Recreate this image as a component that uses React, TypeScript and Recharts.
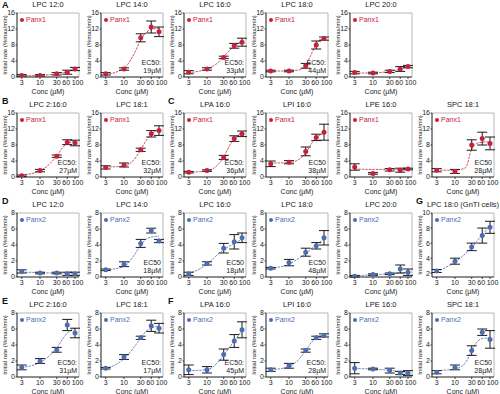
import { ComposedChart, Scatter, Line, XAxis, YAxis, ErrorBar, ReferenceArea } from 'recharts';

// concentrations (µM) for measured points and for the fitted dose-response curve
const conc = [3, 10, 30, 60, 100];
const fitConc = [3, 10, 20, 30, 45, 60, 100];
const concTicks = [3, 10, 30, 60, 100];
const panx1Ticks = [0, 4, 8, 12, 16];
const panx2Ticks = [0, 2, 4, 6, 8];
const gntiTicks = [2, 4, 6, 8, 10];

// A - Panx1
const aLpc120Mean = [0.4, 0.4, 0.8, 1.2, 2.0];
const aLpc120Err = [0.2, 0.2, 0.3, 0.5, 0.4];
const aLpc120Fit = [0.3, 0.4, 0.6, 0.8, 1.1, 1.3, 2.0];
const aLpc140Mean = [0.8, 2.0, 9.8, 12.5, 11.3];
const aLpc140Err = [0.3, 0.3, 1.0, 1.5, 1.2];
const aLpc140Fit = [0.6, 2.2, 6.0, 9.3, 11.3, 11.9, 12.2];
const aLpc160Mean = [1.2, 2.0, 4.9, 7.8, 8.7];
const aLpc160Err = [0.4, 0.3, 0.3, 0.6, 1.0];
const aLpc160Fit = [1.1, 2.0, 3.5, 5.0, 6.7, 7.7, 8.9];
const aLpc180Mean = [1.5, 1.5, 2.8, 8.0, 9.6];
const aLpc180Err = [0.2, 0.2, 0.6, 1.0, 0.4];
const aLpc180Fit = [1.5, 1.5, 1.8, 3.0, 6.0, 8.2, 9.8];
const aLpc200Mean = [1.1, 1.0, 1.4, 2.0, 2.6];
const aLpc200Err = [0.3, 0.2, 0.3, 0.6, 0.3];
const aLpc200Fit = [1.0, 1.0, 1.2, 1.4, 1.7, 2.0, 2.6];

// B / C - Panx1
const bLpc2160Mean = [0.3, 1.6, 5.2, 8.7, 8.5];
const bLpc2160Err = [0.2, 0.3, 0.3, 0.6, 0.7];
const bLpc2160Fit = [0.5, 1.5, 3.5, 5.2, 7.4, 8.4, 8.9];
const bLpc181Mean = [2.4, 3.0, 6.8, 10.8, 11.6];
const bLpc181Err = [0.4, 0.5, 0.4, 0.8, 1.2];
const bLpc181Fit = [2.5, 2.7, 4.5, 6.8, 9.4, 10.7, 11.8];
const cLpa160Mean = [1.2, 1.6, 4.9, 9.6, 10.8];
const cLpa160Err = [0.2, 0.2, 0.5, 0.7, 0.7];
const cLpa160Fit = [1.2, 1.5, 3.0, 5.0, 8.0, 9.5, 11.0];
const cLpi160Mean = [3.3, 3.7, 6.4, 9.9, 11.2];
const cLpi160Err = [0.7, 0.4, 1.1, 0.8, 2.0];
const cLpi160Fit = [3.5, 3.6, 4.5, 6.0, 8.5, 9.8, 11.0];
const cLpe160Mean = [2.5, 0.9, 1.8, 1.7, 2.0];
const cLpe160Err = [0.8, 0.2, 0.3, 0.5, 0.2];
const cLpe160Fit = [2.0, 1.9, 1.9, 1.9, 1.9, 1.9, 1.9];
const cSpc181Mean = [1.7, 1.4, 8.0, 9.6, 8.4];
const cSpc181Err = [0.4, 0.5, 1.3, 1.6, 1.6];
const cSpc181Fit = [1.7, 1.7, 2.3, 7.0, 8.5, 8.7, 8.8];

// D / G - Panx2
const dLpc120Mean = [0.7, 0.5, 0.5, 0.4, 0.4];
const dLpc120Err = [0.2, 0.1, 0.1, 0.2, 0.2];
const dLpc120Fit = [0.6, 0.55, 0.5, 0.5, 0.5, 0.5, 0.5];
const dLpc140Mean = [0.9, 1.6, 4.2, 5.8, 4.5];
const dLpc140Err = [0.1, 0.3, 0.5, 0.3, 0.2];
const dLpc140Fit = [0.9, 1.3, 2.8, 4.0, 4.8, 5.0, 5.1];
const dLpc160Mean = [0.4, 1.7, 3.6, 4.4, 4.9];
const dLpc160Err = [0.2, 0.2, 0.6, 0.9, 0.6];
const dLpc160Fit = [0.4, 1.6, 2.8, 3.4, 3.9, 4.2, 4.7];
const dLpc180Mean = [1.1, 1.8, 3.1, 3.9, 4.9];
const dLpc180Err = [0.1, 0.4, 0.5, 0.4, 0.9];
const dLpc180Fit = [1.1, 1.6, 2.4, 2.9, 3.6, 4.0, 4.8];
const dLpc200Mean = [0.1, 0.3, 0.4, 1.0, 0.6];
const dLpc200Err = [0.1, 0.1, 0.1, 0.5, 0.4];
const dLpc200Fit = [0.1, 0.3, 0.35, 0.4, 0.45, 0.5, 0.6];
const gLpc180Mean = [2.3, 3.6, 5.5, 7.0, 8.1];
const gLpc180Err = [0.2, 0.4, 0.5, 1.0, 0.8];
const gLpc180Fit = [2.2, 3.5, 4.6, 5.4, 6.4, 7.1, 8.3];

// E / F - Panx2
const eLpc2160Mean = [1.2, 2.0, 3.4, 6.5, 5.5];
const eLpc2160Err = [0.3, 0.3, 0.3, 0.7, 0.6];
const eLpc2160Fit = [1.2, 1.8, 2.8, 3.6, 4.8, 5.5, 6.1];
const eLpc181Mean = [1.1, 2.5, 4.9, 6.4, 6.1];
const eLpc181Err = [0.1, 0.3, 0.2, 0.7, 0.6];
const eLpc181Fit = [1.0, 2.3, 3.8, 4.9, 5.8, 6.1, 6.4];
const fLpa160Mean = [0.9, 0.9, 2.8, 4.5, 5.9];
const fLpa160Err = [0.6, 0.4, 0.7, 0.8, 1.0];
const fLpa160Fit = [0.8, 0.9, 1.8, 2.7, 3.8, 4.5, 5.8];
const fLpi160Mean = [0.9, 1.4, 3.3, 4.9, 5.2];
const fLpi160Err = [0.2, 0.3, 0.2, 0.2, 0.2];
const fLpi160Fit = [0.9, 1.3, 2.3, 3.3, 4.4, 4.9, 5.2];
const fLpe160Mean = [1.1, 1.0, 0.8, 0.5, 0.5];
const fLpe160Err = [0.7, 0.1, 0.3, 0.2, 0.3];
const fLpe160Fit = [1.05, 1.0, 0.9, 0.85, 0.75, 0.6, 0.5];
const fSpc181Mean = [0.6, 1.2, 3.3, 5.6, 4.7];
const fSpc181Err = [0.2, 0.3, 0.6, 0.4, 1.1];
const fSpc181Fit = [0.8, 1.0, 1.8, 3.3, 4.5, 4.8, 4.9];

const RED = '#c8203c';
const BLUE = '#4b6db4';
const INK = '#1a1a1a';
const FONT = 'Liberation Sans, Arial, sans-serif';

const COL_X = [17, 101, 184, 266, 350, 432];
const ROW_Y = [13, 113, 213, 313];
const PW = 62;
const PH = 64;
const TOP_PAD = 6;
const X_DOMAIN = [2.2, 130];

type PanelDef = {
  title: string;
  ch: 'Panx1' | 'Panx2';
  mean: number[];
  err: number[];
  fit: number[];
  ec50?: string[];
  col: number;
  row: number;
  domain: number[];
  ticks: number[];
};

const P1 = [0, 16];
const P2 = [0, 8];

const panels: PanelDef[] = [
  { title: 'LPC 12:0', ch: 'Panx1', mean: aLpc120Mean, err: aLpc120Err, fit: aLpc120Fit, col: 0, row: 0, domain: P1, ticks: panx1Ticks },
  { title: 'LPC 14:0', ch: 'Panx1', mean: aLpc140Mean, err: aLpc140Err, fit: aLpc140Fit, ec50: ['EC50:', '19µM'], col: 1, row: 0, domain: P1, ticks: panx1Ticks },
  { title: 'LPC 16:0', ch: 'Panx1', mean: aLpc160Mean, err: aLpc160Err, fit: aLpc160Fit, ec50: ['EC50:', '33µM'], col: 2, row: 0, domain: P1, ticks: panx1Ticks },
  { title: 'LPC 18:0', ch: 'Panx1', mean: aLpc180Mean, err: aLpc180Err, fit: aLpc180Fit, ec50: ['EC50:', '44µM'], col: 3, row: 0, domain: P1, ticks: panx1Ticks },
  { title: 'LPC 20:0', ch: 'Panx1', mean: aLpc200Mean, err: aLpc200Err, fit: aLpc200Fit, col: 4, row: 0, domain: P1, ticks: panx1Ticks },

  { title: 'LPC 2:16:0', ch: 'Panx1', mean: bLpc2160Mean, err: bLpc2160Err, fit: bLpc2160Fit, ec50: ['EC50:', '27µM'], col: 0, row: 1, domain: P1, ticks: panx1Ticks },
  { title: 'LPC 18:1', ch: 'Panx1', mean: bLpc181Mean, err: bLpc181Err, fit: bLpc181Fit, ec50: ['EC50:', '32µM'], col: 1, row: 1, domain: P1, ticks: panx1Ticks },
  { title: 'LPA 16:0', ch: 'Panx1', mean: cLpa160Mean, err: cLpa160Err, fit: cLpa160Fit, ec50: ['EC50:', '36µM'], col: 2, row: 1, domain: P1, ticks: panx1Ticks },
  { title: 'LPI 16:0', ch: 'Panx1', mean: cLpi160Mean, err: cLpi160Err, fit: cLpi160Fit, ec50: ['EC50', '38µM'], col: 3, row: 1, domain: P1, ticks: panx1Ticks },
  { title: 'LPE 16:0', ch: 'Panx1', mean: cLpe160Mean, err: cLpe160Err, fit: cLpe160Fit, col: 4, row: 1, domain: P1, ticks: panx1Ticks },
  { title: 'SPC 18:1', ch: 'Panx1', mean: cSpc181Mean, err: cSpc181Err, fit: cSpc181Fit, ec50: ['EC50', '28µM'], col: 5, row: 1, domain: P1, ticks: panx1Ticks },

  { title: 'LPC 12:0', ch: 'Panx2', mean: dLpc120Mean, err: dLpc120Err, fit: dLpc120Fit, col: 0, row: 2, domain: P2, ticks: panx2Ticks },
  { title: 'LPC 14:0', ch: 'Panx2', mean: dLpc140Mean, err: dLpc140Err, fit: dLpc140Fit, ec50: ['EC50', '18µM'], col: 1, row: 2, domain: P2, ticks: panx2Ticks },
  { title: 'LPC 16:0', ch: 'Panx2', mean: dLpc160Mean, err: dLpc160Err, fit: dLpc160Fit, ec50: ['EC50', '18µM'], col: 2, row: 2, domain: P2, ticks: panx2Ticks },
  { title: 'LPC 18:0', ch: 'Panx2', mean: dLpc180Mean, err: dLpc180Err, fit: dLpc180Fit, ec50: ['EC50', '48µM'], col: 3, row: 2, domain: P2, ticks: panx2Ticks },
  { title: 'LPC 20:0', ch: 'Panx2', mean: dLpc200Mean, err: dLpc200Err, fit: dLpc200Fit, col: 4, row: 2, domain: P2, ticks: panx2Ticks },
  { title: 'LPC 18:0 (GnTI cells)', ch: 'Panx2', mean: gLpc180Mean, err: gLpc180Err, fit: gLpc180Fit, col: 5, row: 2, domain: [1.5, 10], ticks: gntiTicks },

  { title: 'LPC 2:16:0', ch: 'Panx2', mean: eLpc2160Mean, err: eLpc2160Err, fit: eLpc2160Fit, ec50: ['EC50:', '31µM'], col: 0, row: 3, domain: P2, ticks: panx2Ticks },
  { title: 'LPC 18:1', ch: 'Panx2', mean: eLpc181Mean, err: eLpc181Err, fit: eLpc181Fit, ec50: ['EC50:', '17µM'], col: 1, row: 3, domain: P2, ticks: panx2Ticks },
  { title: 'LPA 16:0', ch: 'Panx2', mean: fLpa160Mean, err: fLpa160Err, fit: fLpa160Fit, ec50: ['EC50:', '45µM'], col: 2, row: 3, domain: P2, ticks: panx2Ticks },
  { title: 'LPI 16:0', ch: 'Panx2', mean: fLpi160Mean, err: fLpi160Err, fit: fLpi160Fit, ec50: ['EC50:', '28µM'], col: 3, row: 3, domain: P2, ticks: panx2Ticks },
  { title: 'LPE 16:0', ch: 'Panx2', mean: fLpe160Mean, err: fLpe160Err, fit: fLpe160Fit, col: 4, row: 3, domain: P2, ticks: panx2Ticks },
  { title: 'SPC 18:1', ch: 'Panx2', mean: fSpc181Mean, err: fSpc181Err, fit: fSpc181Fit, ec50: ['EC50', '28µM'], col: 5, row: 3, domain: P2, ticks: panx2Ticks },
];

const letters = [
  { t: 'A', x: 2, y: 0 },
  { t: 'B', x: 2, y: 96 },
  { t: 'C', x: 168, y: 96 },
  { t: 'D', x: 2, y: 196 },
  { t: 'G', x: 416, y: 196 },
  { t: 'E', x: 2, y: 296 },
  { t: 'F', x: 168, y: 296 },
];

// small nudges so the crowded "60" / "100" labels don't collide
const ConcTick = (props: any) => {
  const { x, y, payload } = props;
  const v = payload.value;
  const dx = v === 100 ? 2.5 : v === 60 ? -1 : 0;
  return (
    <text x={x + dx} y={y} dy={6} textAnchor="middle" fontSize={7} fill={INK} fontFamily={FONT}>
      {v}
    </text>
  );
};

const Panel = ({ p }: { p: PanelDef }) => {
  const left = COL_X[p.col];
  const top = ROW_Y[p.row];
  const color = p.ch === 'Panx1' ? RED : BLUE;
  const points = conc.map((x, i) => ({ x, y: p.mean[i], err: p.err[i] }));
  const fit = fitConc.map((x, i) => ({ x, y: p.fit[i] }));

  return (
    <>
      <div style={{ position: 'absolute', left: left - 17, top: top - TOP_PAD }}>
        <ComposedChart width={84} height={TOP_PAD + PH + 20} margin={{ top: TOP_PAD, right: 5, left: 0, bottom: 0 }}>
          <XAxis
            dataKey="x"
            type="number"
            scale="log"
            domain={X_DOMAIN}
            ticks={concTicks}
            interval={0}
            allowDataOverflow
            height={20}
            tickSize={2}
            tickMargin={0}
            stroke={INK}
            strokeWidth={0.8}
            tick={<ConcTick />}
            label={{ value: 'Conc (µM)', position: 'insideBottom', offset: 3, fontSize: 7, fill: INK, fontFamily: FONT }}
          />
          <YAxis
            dataKey="y"
            type="number"
            domain={p.domain}
            ticks={p.ticks}
            interval={0}
            allowDataOverflow
            width={17}
            tickSize={1.5}
            tickMargin={0.5}
            stroke={INK}
            strokeWidth={0.8}
            tick={{ fontSize: 7, fill: INK, fontFamily: FONT }}
            label={{
              value: 'Initial rate (%max/min)',
              angle: -90,
              position: 'insideLeft',
              offset: 4.5,
              fontSize: 6,
              fill: INK,
              fontFamily: FONT,
              textAnchor: 'middle',
            }}
          />
          <ReferenceArea
            x1={X_DOMAIN[0]}
            x2={X_DOMAIN[1]}
            y1={p.domain[0]}
            y2={p.domain[1]}
            fill="none"
            stroke="#9a9a9a"
            strokeWidth={0.7}
            ifOverflow="visible"
          />
          <Line
            data={fit}
            dataKey="y"
            type="monotone"
            stroke={color}
            strokeWidth={0.8}
            strokeDasharray="2.5 1"
            dot={false}
            isAnimationActive={false}
          />
          <Scatter
            data={points}
            fill={color}
            isAnimationActive={false}
            shape={(s: any) => <circle cx={s.cx} cy={s.cy} r={2.5} fill={color} />}
          >
            <ErrorBar dataKey="err" direction="y" width={5} stroke={INK} strokeWidth={1} />
          </Scatter>
        </ComposedChart>
      </div>
      <div
        style={{
          position: 'absolute',
          left: left + PW / 2,
          top: top - 13,
          transform: 'translateX(-50%)',
          whiteSpace: 'nowrap',
          fontSize: 7.5,
          lineHeight: '10px',
          color: INK,
          fontFamily: FONT,
        }}
      >
        {p.title}
      </div>
      <div
        style={{
          position: 'absolute',
          left: left + 3,
          top: top + 3,
          display: 'flex',
          alignItems: 'center',
          fontSize: 7,
          lineHeight: '8px',
          color,
          fontFamily: FONT,
          whiteSpace: 'nowrap',
        }}
      >
        <span style={{ display: 'inline-block', width: 4, height: 4, borderRadius: 2, background: color, marginRight: 2 }} />
        {p.ch}
      </div>
      {p.ec50 && (
        <div
          style={{
            position: 'absolute',
            left: left,
            width: PW - 2,
            top: top + PH - 18,
            textAlign: 'right',
            fontSize: 7,
            lineHeight: '8px',
            color: INK,
            fontFamily: FONT,
          }}
        >
          {p.ec50[0]}
          <br />
          {p.ec50[1]}
        </div>
      )}
    </>
  );
};

export default function App() {
  return (
    <div style={{ position: 'absolute', left: 0, top: 0, width: 500, height: 394, background: '#fff', overflow: 'hidden' }}>
      {letters.map((l) => (
        <div
          key={l.t}
          style={{ position: 'absolute', left: l.x, top: l.y, fontSize: 9, fontWeight: 'bold', fontFamily: FONT, lineHeight: '10px', color: '#111' }}
        >
          {l.t}
        </div>
      ))}
      {panels.map((p, i) => (
        <Panel key={i} p={p} />
      ))}
    </div>
  );
}
